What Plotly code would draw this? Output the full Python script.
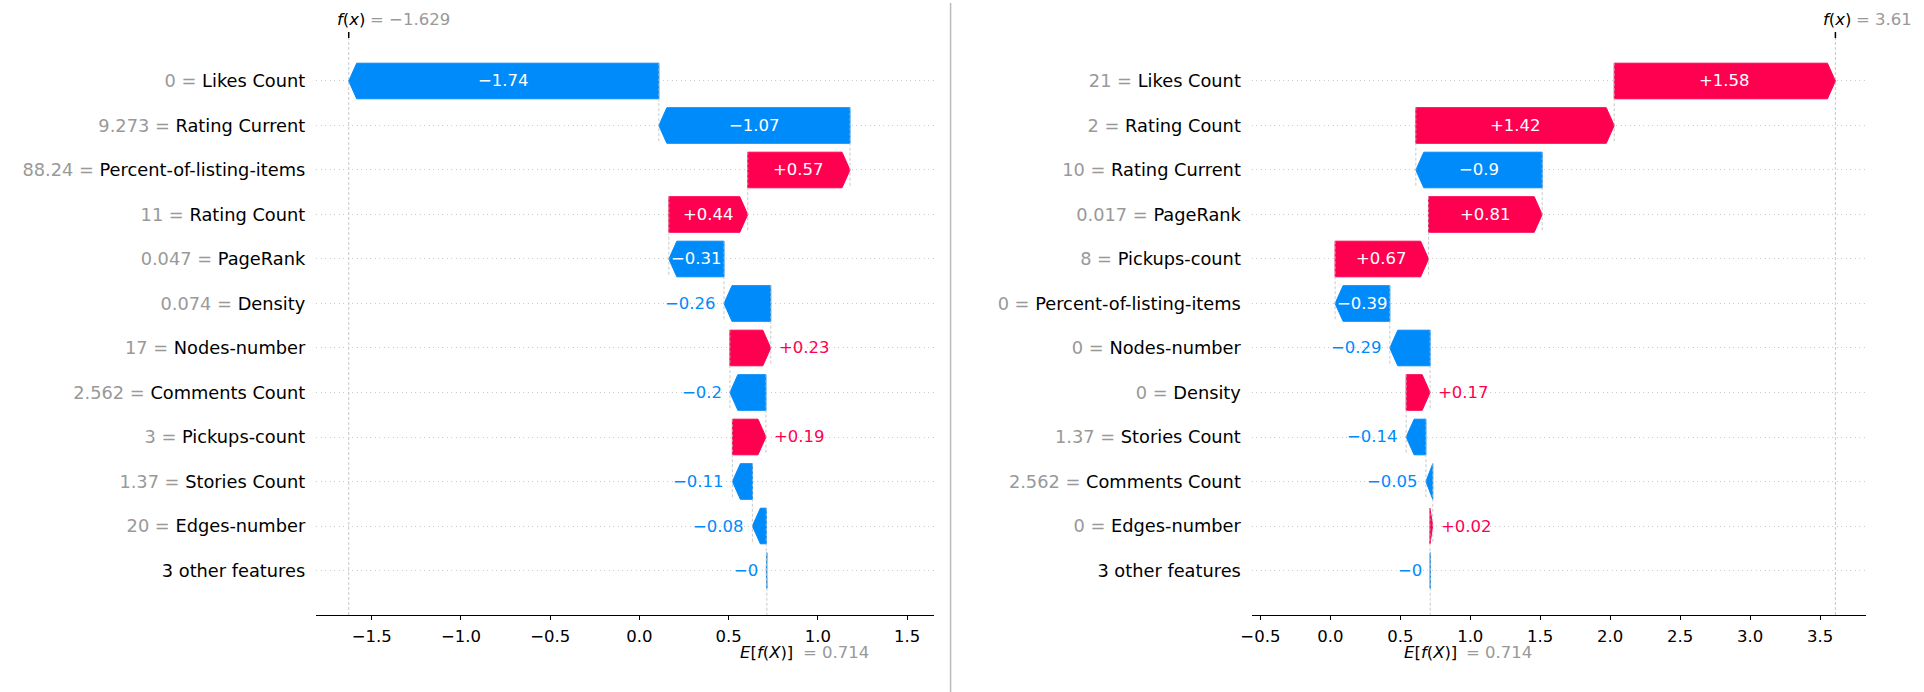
import re
import plotly.graph_objects as go

# SHAP waterfall data for two predictions (same base value)
base_value = 0.714

left_features = ["Likes Count", "Rating Current", "Percent-of-listing-items", "Rating Count",
                 "PageRank", "Density", "Nodes-number", "Comments Count", "Pickups-count",
                 "Stories Count", "Edges-number", "3 other features"]
left_feature_values = ["0", "9.273", "88.24", "11", "0.047", "0.074", "17", "2.562", "3",
                       "1.37", "20", None]
left_shap = [-1.738, -1.071, 0.573, 0.442, -0.309, -0.262, 0.229, -0.202, 0.188,
             -0.112, -0.078, -0.003]

right_features = ["Likes Count", "Rating Count", "Rating Current", "PageRank", "Pickups-count",
                  "Percent-of-listing-items", "Nodes-number", "Density", "Stories Count",
                  "Comments Count", "Edges-number", "3 other features"]
right_feature_values = ["21", "2", "10", "0.017", "8", "0", "0", "0", "1.37", "2.562", "0", None]
right_shap = [1.581, 1.418, -0.903, 0.812, 0.668, -0.391, -0.288, 0.171, -0.141,
              -0.049, 0.020, -0.002]

left_ticks = [-1.5, -1.0, -0.5, 0.0, 0.5, 1.0, 1.5]
right_ticks = [-0.5, 0.0, 0.5, 1.0, 1.5, 2.0, 2.5, 3.0, 3.5]

RED = "#ff0051"
BLUE = "#008bfb"
GRAY = "#999999"
FONT = "DejaVu Sans"
W, H = 1924, 692
FS = 16.5        # values, ticks, f(x) / E[f(X)]
FS_LABEL = 17.8  # feature names
HEAD_PX = 8
PAD_PX = 6

# rough DejaVu Sans advance widths (per 1000 em) for the value labels
CHAR_W = {".": 318, "+": 838, "\u2212": 838}


def fmt(v, spec):
    s = spec % v
    s = re.sub(r"\.?0+$", "", s)
    if s.startswith("-"):
        s = "\u2212" + s[1:]
    return s


def text_px(s):
    return sum(CHAR_W.get(c, 636) for c in s) * FS / 1000.0


ydom = [1 - 615 / H, 1 - 38 / H]
yrange = [12, -0.966]

panels = [
    dict(features=left_features, fvals=left_feature_values, shap=left_shap,
         ticks=left_ticks, xrange=[-1.811, 1.649], xdom=[307 / W, 928 / W], ax=""),
    dict(features=right_features, fvals=right_feature_values, shap=right_shap,
         ticks=right_ticks, xrange=[-0.561, 3.831], xdom=[1248 / W, 1866 / W], ax="2"),
]

fig = go.Figure()
annotations = []
shapes = []
layout_axes = {}

for p in panels:
    xa, ya = "x" + p["ax"], "y" + p["ax"]
    n = len(p["shap"])
    fx = base_value + sum(p["shap"])
    px_per_unit = (p["xdom"][1] - p["xdom"][0]) * W / (p["xrange"][1] - p["xrange"][0])
    hl = HEAD_PX / px_per_unit

    dash_x, dash_y = [], []
    loc = fx
    for r, v in enumerate(p["shap"]):
        loc -= v
        tip = loc + v
        h = min(abs(v), hl)
        color = RED if v >= 0 else BLUE
        if v >= 0:
            bx = [loc, tip - h, tip, tip - h, loc, loc]
        else:
            bx = [loc, tip + h, tip, tip + h, loc, loc]
        by = [r - 0.4, r - 0.4, r, r + 0.4, r + 0.4, r - 0.4]
        fig.add_trace(go.Scatter(x=bx, y=by, xaxis=xa, yaxis=ya, mode="lines",
                                 fill="toself", fillcolor=color,
                                 line=dict(color=color, width=1),
                                 hoverinfo="skip", showlegend=False))

        label = fmt(v, "%+0.02f")
        if abs(v) * px_per_unit > text_px(label) + 3:
            annotations.append(dict(x=loc + v / 2, y=r, xref=xa, yref=ya, text=label,
                                    showarrow=False, xanchor="center", yanchor="middle",
                                    font=dict(family=FONT, size=FS, color="white")))
        else:
            annotations.append(dict(x=tip, y=r, xref=xa, yref=ya, text=label,
                                    showarrow=False,
                                    xanchor="left" if v >= 0 else "right",
                                    xshift=PAD_PX if v >= 0 else -PAD_PX,
                                    yanchor="middle",
                                    font=dict(family=FONT, size=FS, color=color)))

        dash_x += [loc, loc, None]
        dash_y += [r - 0.4, min(r + 1.4, n), None]

    # f(x) line across the whole axis
    dash_x += [fx, fx, None]
    dash_y += [n, yrange[1], None]
    fig.add_trace(go.Scatter(x=dash_x, y=dash_y, xaxis=xa, yaxis=ya, mode="lines",
                             line=dict(color="#bbbbbb", width=0.8, dash="3px,2px"),
                             hoverinfo="skip", showlegend=False))

    # f(x) tick mark and label at the top
    shapes.append(dict(type="line", xref=xa, yref="paper", x0=fx, x1=fx,
                       y0=ydom[1], y1=ydom[1] + 6 / H, line=dict(color="black", width=1.5)))
    annotations.append(dict(x=fx, y=ydom[1], xref=xa, yref="paper",
                            text="<i>f</i>(<i>x</i>)", showarrow=False,
                            xanchor="left", yanchor="middle", xshift=-14, yshift=18,
                            font=dict(family=FONT, size=FS, color="black")))
    annotations.append(dict(x=fx, y=ydom[1], xref=xa, yref="paper",
                            text="= " + fmt(fx, "%0.03f"), showarrow=False,
                            xanchor="left", yanchor="middle", xshift=19, yshift=18,
                            font=dict(family=FONT, size=FS, color=GRAY)))

    # E[f(X)] label under the axis
    annotations.append(dict(x=base_value, y=ydom[0], xref=xa, yref="paper",
                            text="<i>E</i>[<i>f</i>(<i>X</i>)]", showarrow=False,
                            xanchor="center", yanchor="middle", yshift=-37,
                            font=dict(family=FONT, size=FS, color="black")))
    annotations.append(dict(x=base_value, y=ydom[0], xref=xa, yref="paper",
                            text="= " + fmt(base_value, "%0.03f"), showarrow=False,
                            xanchor="left", yanchor="middle", xshift=34, yshift=-37,
                            font=dict(family=FONT, size=FS, color=GRAY)))

    ticktext = []
    for name, val in zip(p["features"], p["fvals"]):
        if val is None:
            ticktext.append(name)
        else:
            ticktext.append("<span style='color:%s'>%s = </span>%s" % (GRAY, val, name))

    xkey = "xaxis" + p["ax"]
    ykey = "yaxis" + p["ax"]
    layout_axes[xkey] = dict(domain=p["xdom"], range=p["xrange"], anchor=ya,
                             showline=True, linecolor="black", linewidth=1,
                             ticks="outside", ticklen=4, tickwidth=1, tickcolor="black",
                             tickvals=p["ticks"], tickformat=".1f", ticklabelstandoff=2,
                             tickfont=dict(family=FONT, size=FS, color="black"),
                             showgrid=False, zeroline=False, fixedrange=True)
    layout_axes[ykey] = dict(domain=ydom, range=yrange, anchor=xa,
                             showline=False, ticks="", tickvals=list(range(n)),
                             ticktext=ticktext, ticklabelstandoff=10,
                             tickfont=dict(family=FONT, size=FS_LABEL, color="black"),
                             showgrid=True, gridcolor="#cccccc", gridwidth=0.8,
                             griddash="1px,3.5px", zeroline=False, fixedrange=True)

# thin divider between the two panels
shapes.append(dict(type="line", xref="paper", yref="paper", x0=945 / W, x1=945 / W,
                   y0=0, y1=1 - 3 / H, line=dict(color="#bbbbbb", width=1.5)))

fig.update_layout(
    width=W, height=H,
    margin=dict(l=0, r=0, t=0, b=0),
    paper_bgcolor="white", plot_bgcolor="white",
    font=dict(family=FONT, size=FS, color="black"),
    annotations=annotations, shapes=shapes,
    showlegend=False,
    **layout_axes,
)

fig.write_html("out.html", config={"displayModeBar": False},
               post_script="document.body.style.margin='0';")
